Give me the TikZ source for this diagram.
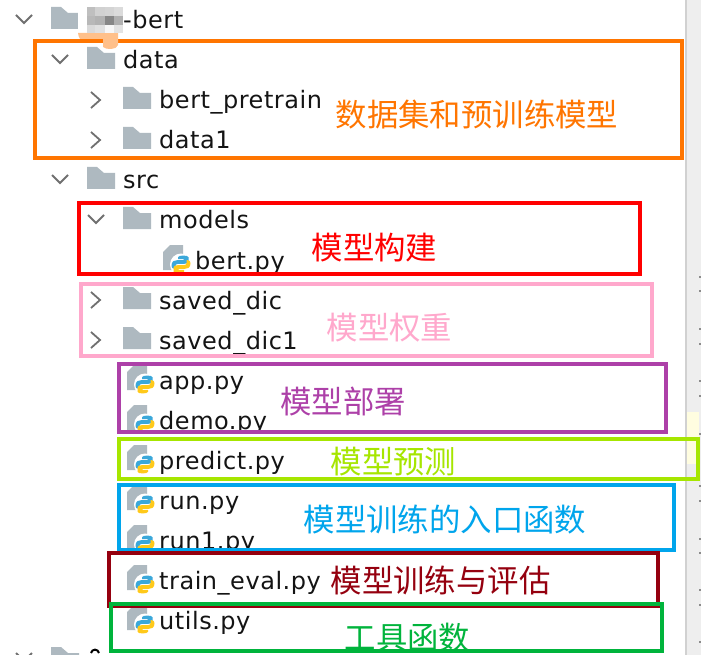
\documentclass[tikz,border=0pt]{standalone}
\usepackage{fontspec}
\setmainfont{DejaVu Sans}[LetterSpace=2.2]
\newfontfamily\cjkf{Noto Sans CJK SC}
\definecolor{cOrange}{HTML}{FF7500}
\definecolor{cPeach}{HTML}{FFC08A}
\definecolor{cRed}{HTML}{FF0000}
\definecolor{cPink}{HTML}{FFA8CC}
\definecolor{cPurple}{HTML}{AD40A8}
\definecolor{cLime}{HTML}{A6E600}
\definecolor{cBlue}{HTML}{00A5EC}
\definecolor{cDark}{HTML}{95000F}
\definecolor{cGreen}{HTML}{00B43C}
\definecolor{cFold}{HTML}{AEB9C0}
\definecolor{cChev}{HTML}{707070}
\definecolor{cPyB}{HTML}{3BA8DA}
\definecolor{cPyY}{HTML}{FFC91A}
\tikzset{
  x=1pt,y=-1pt,
  rowtext/.style={anchor=base west,inner sep=0pt,font=\fontsize{24}{24}\selectfont,text=black!92},
  note/.style={anchor=base west,inner sep=0pt,font=\cjkf\fontsize{31.4}{31.4}\selectfont},
  band/.style={line width=4pt,draw=#1,miter limit=10},
  chev/.style={draw=cChev,line width=1.8pt,fill=none},
}
\newcommand{\foldericon}[2]{% x, row y
  \fill[cFold] (#1,#2-13) -- (#1+10,#2-13) -- (#1+17,#2-7) -- (#1+28,#2-7) -- (#1+28,#2+9) -- (#1,#2+9) -- cycle;}
\newcommand{\chevdown}[2]{\draw[chev] (#1-8,#2-5) -- (#1,#2+3) -- (#1+8,#2-5);}
\newcommand{\chevright}[2]{\draw[chev] (#1-4,#2-8) -- (#1+5,#2) -- (#1-4,#2+8);}
\newcommand{\pyicon}[2]{% x of doc left, row y
  \fill[cFold] (#1+7,#2-15) -- (#1+20,#2-15) -- (#1+20,#2+10) -- (#1,#2+10) -- (#1,#2-8) -- cycle;
  \fill[white] (#1+18,#2+4.5) circle (11);
  \begin{scope}[shift={(1.5,#2+4.5)},yscale=.73,shift={(0,-#2-6)}]
  \fill[cPyB] (#1+7,#2+8) .. controls (#1+7,#2+1) and (#1+10,#2+0) .. (#1+13,#2+0) -- (#1+19,#2+0) -- (#1+19,#2-1.5) -- (#1+13.5,#2-1.5) -- (#1+13.5,#2-4) .. controls (#1+13.5,#2-7) and (#1+24,#2-7) .. (#1+24,#2-4) -- (#1+24,#2+2) .. controls (#1+24,#2+4) and (#1+22,#2+5) .. (#1+20,#2+5) -- (#1+14,#2+5) .. controls (#1+12,#2+5) and (#1+11,#2+6) .. (#1+11,#2+8) -- (#1+11,#2+12) -- (#1+10,#2+12) .. controls (#1+8,#2+12) and (#1+7,#2+10) .. (#1+7,#2+8) -- cycle;
  \fill[cPyY] (#1+26,#2+4) .. controls (#1+26,#2+11) and (#1+23,#2+12) .. (#1+20,#2+12) -- (#1+14,#2+12) -- (#1+14,#2+13.5) -- (#1+19.5,#2+13.5) -- (#1+19.5,#2+16) .. controls (#1+19.5,#2+19) and (#1+9,#2+19) .. (#1+9,#2+16) -- (#1+9,#2+10) .. controls (#1+9,#2+8) and (#1+11,#2+7) .. (#1+13,#2+7) -- (#1+19,#2+7) .. controls (#1+21,#2+7) and (#1+22,#2+6) .. (#1+22,#2+4) -- (#1+22,#2+0) -- (#1+23,#2+0) .. controls (#1+25,#2+0) and (#1+26,#2+2) .. (#1+26,#2+4) -- cycle;
  \end{scope}}
\begin{document}
\begin{tikzpicture}
\useasboundingbox (0,0) rectangle (701,655);
\clip (0,0) rectangle (701,655);
\fill[white] (0,0) rectangle (701,655);
% right gutter
\fill[black!6.5] (686,0) rectangle (701,655);
\fill[black!18] (684.5,0) rectangle (686.5,655);
\fill[yellow!12] (687,412) rectangle (699,464);
\foreach \ty in {277,291,329,344,381,396,434,486,501,539,553,590,605,642}
  \fill[black!45] (699,\ty-1.2) rectangle (701,\ty+1.2);
% tree
\chevdown{24}{20}\foldericon{51}{20}
\chevdown{60}{60}\foldericon{87}{60}
\chevright{95}{100}\foldericon{123}{100}
\chevright{95}{140}\foldericon{123}{140}
\chevdown{60}{180}\foldericon{87}{180}
\chevdown{96}{220}\foldericon{123}{220}
\chevright{95}{300}\foldericon{123}{300}
\chevright{95}{340}\foldericon{123}{340}
\pyicon{163}{260}
\foreach \ry in {380,420,460,500,540,580,620} {\pyicon{127}{\ry}}
\chevdown{24}{658}
\foldericon{51}{660}
\draw[black,line width=2pt] (91,653) .. controls (92,648.5) and (98,648.5) .. (99,653);
\node[rowtext] (root) at (123,29) {-bert};
\node[rowtext] (data) at (123,69) {data};
\node[rowtext] (pre) at (159,109) {bert\_pretrain};
\node[rowtext] (dataone) at (159,149) {data1};
\node[rowtext] (src) at (123,189) {src};
\node[rowtext] (models) at (159,229) {models};
\node[rowtext] (bert) at (195,269) {bert.py};
\node[rowtext] (saved) at (159,309) {saved\_dic};
\node[rowtext] (savedone) at (159,349) {saved\_dic1};
\node[rowtext] (app) at (159,389) {app.py};
\node[rowtext] (demo) at (159,429) {demo.py};
\node[rowtext] (predict) at (159,469) {predict.py};
\node[rowtext] (run) at (159,509) {run.py};
\node[rowtext] (runone) at (159,549) {run1.py};
\node[rowtext] (train) at (159,589) {train\_eval.py};
\node[rowtext] (utils) at (159,629) {utils.py};
% boxes
\draw[band=cOrange] (35,41) rectangle (682,158);
\draw[band=cRed] (79,203.5) rectangle (640,274);
\draw[band=cPink] (81,284) rectangle (652,356);
\draw[band=cPurple] (119,364) rectangle (666,432);
\draw[band=cLime] (119,439) rectangle (698,478.5);
\draw[band=cBlue] (119,485) rectangle (674,549.5);
\draw[band=cDark] (109,553) rectangle (658,606);
\draw[band=cGreen] (111,603.5) rectangle (662,650.6);
% mosaic that hides part of the root name
\fill[white,rounded corners=5pt] (78,5) rectangle (122,34);
\fill[cPeach] (78,33) -- (118,33) -- (118,45) .. controls (117,50) and (106,50) .. (103,47) -- (103,39) -- (80,39) .. controls (79,37) and (78,35) .. (78,33) -- cycle;
\fill[cOrange] (78,39) rectangle (103,43);
\foreach \mx/\my/\mw/\mh/\mc in {
 87/7/8/9/25,95/7/10/9/18,105/7/9/9/17,114/7/9/9/14,
 87/16/8/9/28,95/16/10/9/30,105/16/9/9/47,114/16/9/9/31,
 87/25/8/8/15,95/25/10/8/12,105/25/9/8/3,114/25/9/8/11}
  \fill[black!\mc] (\mx,\my) rectangle ++(\mw,\mh);
% labels
\node[note,text=cOrange] (n1) at (335.5,127) {数据集和预训练模型};
\node[note,text=cRed] (n2) at (311.5,259) {模型构建};
\node[note,text=cPink] (n3) at (326.5,339) {模型权重};
\node[note,text=cPurple] (n4) at (280,413) {模型部署};
\node[note,text=cLime] (n5) at (330.5,473) {模型预测};
\node[note,text=cBlue] (n6) at (303.5,531) {模型训练的入口函数};
\node[note,text=cDark] (n7) at (330.5,592) {模型训练与评估};
\node[note,text=cGreen] (n8) at (344.5,649) {工具函数};
\end{tikzpicture}
\end{document}
